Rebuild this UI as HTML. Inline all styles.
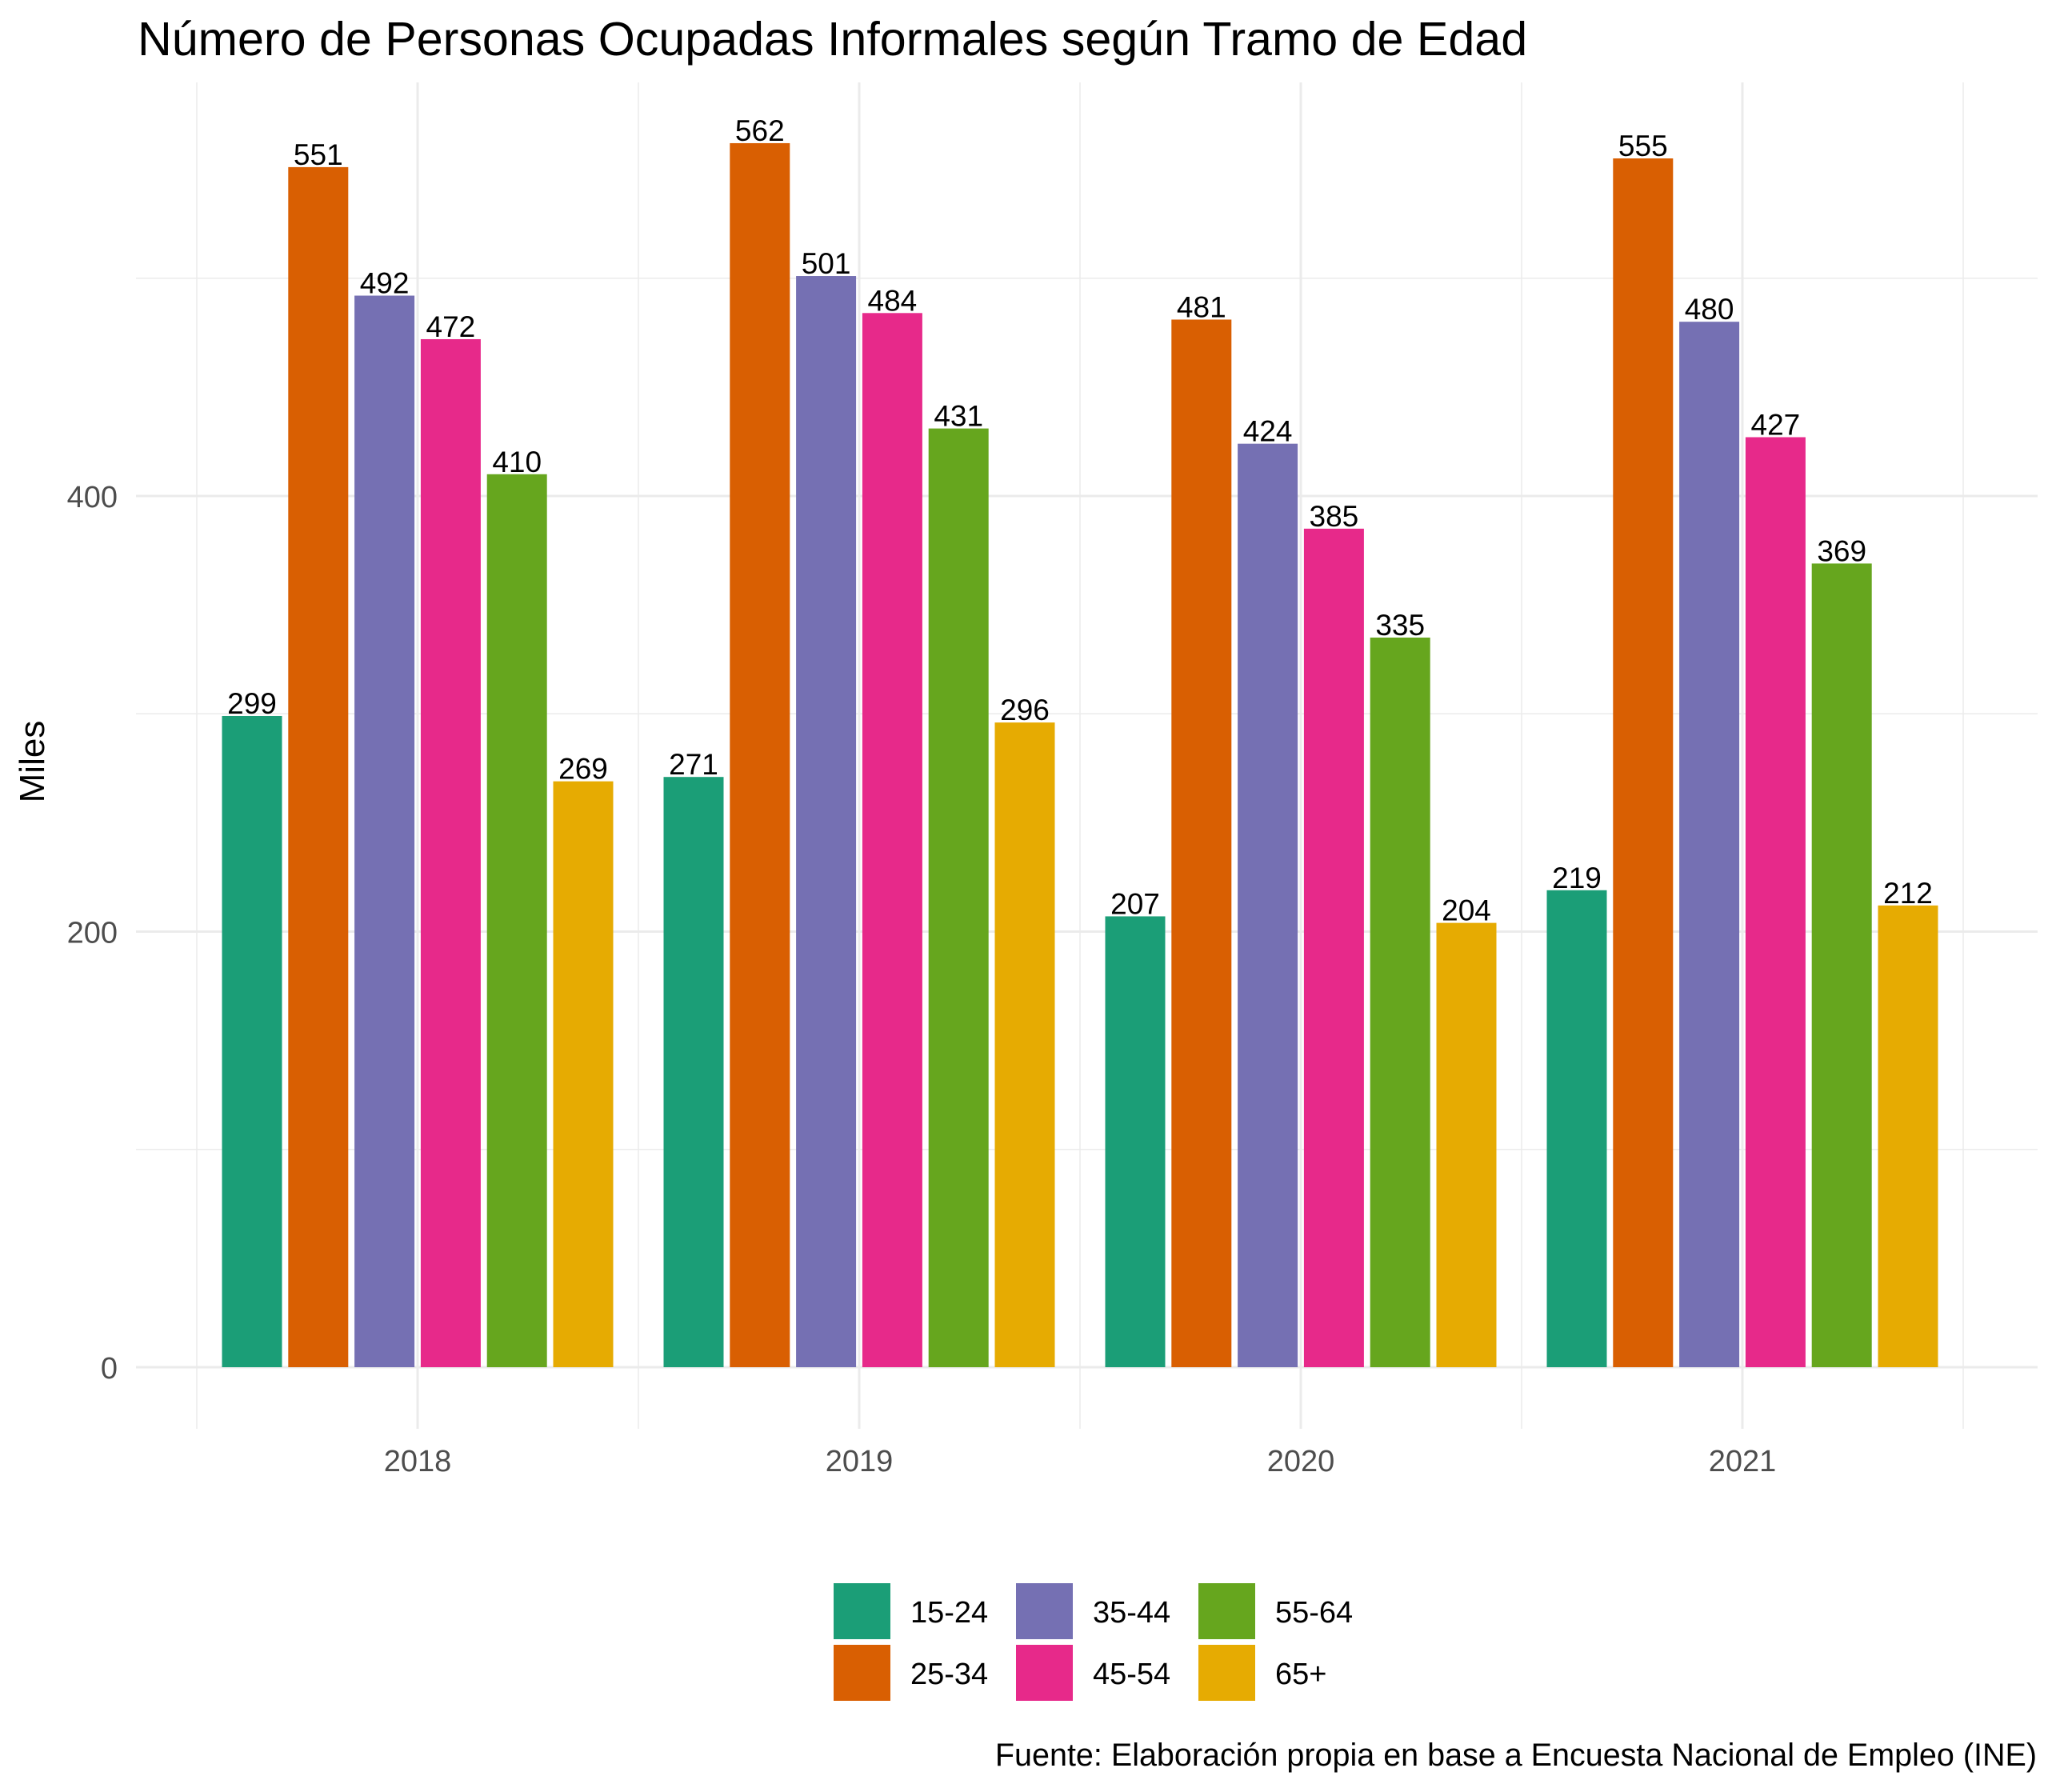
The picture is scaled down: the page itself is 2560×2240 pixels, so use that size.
<!DOCTYPE html>
<html><head><meta charset="utf-8"><style>
html,body{margin:0;padding:0;background:#fff;}
svg{display:block;font-family:"Liberation Sans",Arial,sans-serif;}
</style></head><body>
<svg id="chart" width="2560" height="2240" viewBox="0 0 2560 2240" xmlns="http://www.w3.org/2000/svg">
<text x="172" y="69" font-size="59.2" fill="#000">Número de Personas Ocupadas Informales según Tramo de Edad</text>
<g id="grid"></g>
<g id="bars"></g>
<g id="axes"></g>
<text transform="translate(55,952) rotate(-90)" text-anchor="middle" font-size="44" fill="#000">Miles</text>
<g id="legend"></g>
<text x="2546" y="2207" text-anchor="end" font-size="39.5" fill="#000">Fuente: Elaboración propia en base a Encuesta Nacional de Empleo (INE)</text>
</svg>
<script>
const years = ['2018','2019','2020','2021'];
const groups = ['15-24','25-34','35-44','45-54','55-64','65+'];
const s1524 = [299,271,207,219];
const s2534 = [551,562,481,555];
const s3544 = [492,501,424,480];
const s4554 = [472,484,385,427];
const s5564 = [410,431,335,369];
const s65 = [269,296,204,212];
const yTicks = [0,200,400];
const yMinor = [100,300,500];
const series = [s1524,s2534,s3544,s4554,s5564,s65];
const colors = ['#1B9E77','#D95F02','#7570B3','#E7298A','#66A61E','#E6AB02'];
const NS='http://www.w3.org/2000/svg';
const y0=1709, pxPerUnit=(1709-620)/400;
const yS=v=>y0-v*pxPerUnit;
const catStep=552, cat0=522;
const xS=i=>cat0+i*catStep;
const slot=82.8, barW=75;
const pl=170, pr=2547, pt=103, pb=1786;
function mk(tag,attrs,parent){const e=document.createElementNS(NS,tag);for(const k in attrs)e.setAttribute(k,attrs[k]);parent.appendChild(e);return e;}
const grid=document.getElementById('grid'), bars=document.getElementById('bars'), axes=document.getElementById('axes'), legend=document.getElementById('legend');
yMinor.forEach(v=>{const l=mk('line',{x1:pl,x2:pr,y1:yS(v),y2:yS(v),stroke:'#ebebeb','stroke-width':1.5},grid);

});
for(let i=0;i<=years.length;i++){const x=xS(i)-catStep/2;const l=mk('line',{x1:x,x2:x,y1:pt,y2:pb,stroke:'#ebebeb','stroke-width':1.5},grid);

}
yTicks.forEach(v=>{const l=mk('line',{x1:pl,x2:pr,y1:yS(v),y2:yS(v),stroke:'#ebebeb','stroke-width':3},grid);


const t=mk('text',{x:147,y:yS(v)+14,'text-anchor':'end','font-size':38,fill:'#4d4d4d'},axes);t.textContent=v;

});
years.forEach((yr,i)=>{const l=mk('line',{x1:xS(i),x2:xS(i),y1:pt,y2:pb,stroke:'#ebebeb','stroke-width':3},grid);


const t=mk('text',{x:xS(i),y:1839,'text-anchor':'middle','font-size':38,fill:'#4d4d4d'},axes);t.textContent=yr;

});
series.forEach((s,g)=>{s.forEach((v,i)=>{const cx=xS(i)+(g-2.5)*slot;
const r=mk('rect',{x:cx-barW/2,y:yS(v),width:barW,height:y0-yS(v),fill:colors[g]},bars);


const t=mk('text',{x:cx,y:yS(v)-3,'text-anchor':'middle','font-size':37,fill:'#000'},bars);t.textContent=v;

});});
groups.forEach((gname,g)=>{const col=Math.floor(g/2),row=g%2;const kx=1042+col*228,ky=1979+row*77;
const r=mk('rect',{x:kx,y:ky,width:71,height:70,fill:colors[g]},legend);


const t=mk('text',{x:kx+96,y:ky+49,'font-size':38,fill:'#000'},legend);t.textContent=gname;

});
</script>
</body></html>
